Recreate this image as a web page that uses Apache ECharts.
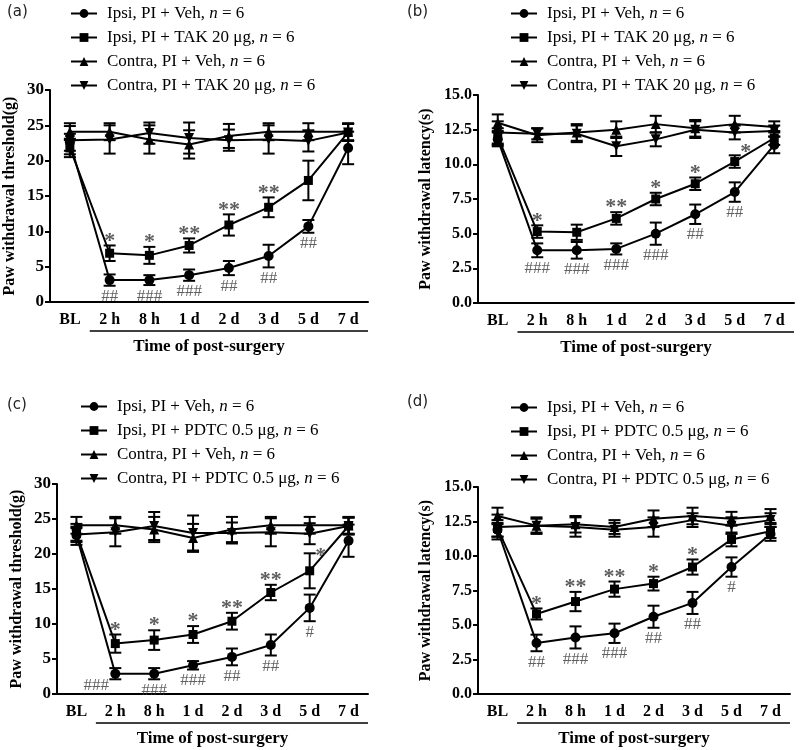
<!DOCTYPE html>
<html><head><meta charset="utf-8">
<script src="https://cdn.jsdelivr.net/npm/echarts@6/dist/echarts.min.js"></script>
<style>html,body{margin:0;padding:0;background:#fff}#c{width:800px;height:750px}</style>
</head><body><div id="c"></div>
<script>
const categories = ['BL','2 h','8 h','1 d','2 d','3 d','5 d','7 d'];

// (a) mechanical threshold, TAK
const a_ipsiVeh = [22.6, 3.1, 3.1, 3.8, 4.8, 6.5, 10.7, 21.8];
const a_ipsiVehErr = [1.2, 0.8, 0.7, 0.8, 1.0, 1.6, 0.9, 2.3];
const a_ipsiDrug = [21.8, 6.9, 6.6, 8.0, 10.9, 13.4, 17.2, 24.0];
const a_ipsiDrugErr = [1.3, 1.1, 1.2, 1.0, 1.5, 1.4, 2.8, 1.2];
const a_contraVeh = [24.1, 24.1, 23.0, 22.3, 23.5, 24.1, 24.1, 24.1];
const a_contraVehErr = [1.2, 1.2, 2.0, 2.0, 1.7, 1.2, 1.2, 1.2];
const a_contraDrug = [22.9, 23.0, 23.9, 23.2, 22.9, 23.0, 22.8, 24.0];
const a_contraDrugErr = [2.0, 2.0, 1.5, 2.2, 1.5, 2.0, 1.5, 1.2];
const a_stars = ['', '*', '*', '**', '**', '**', '', ''];
const a_hashes = ['', '##', '###', '###', '##', '##', '##', ''];

// (b) thermal latency, TAK
const b_ipsiVeh = [11.8, 3.8, 3.8, 3.9, 5.0, 6.4, 8.0, 11.4];
const b_ipsiVehErr = [0.5, 0.5, 0.6, 0.4, 0.8, 0.7, 0.7, 0.6];
const b_ipsiDrug = [12.0, 5.15, 5.1, 6.1, 7.5, 8.6, 10.2, 11.9];
const b_ipsiDrugErr = [0.6, 0.45, 0.55, 0.45, 0.45, 0.45, 0.45, 0.5];
const b_contraVeh = [13.0, 12.1, 12.3, 12.5, 12.9, 12.6, 12.9, 12.7];
const b_contraVehErr = [0.6, 0.5, 0.6, 0.6, 0.6, 0.6, 0.6, 0.4];
const b_contraDrug = [12.3, 12.2, 12.2, 11.3, 11.8, 12.5, 12.3, 12.4];
const b_contraDrugErr = [0.8, 0.4, 0.6, 0.7, 0.5, 0.6, 0.5, 0.4];
const b_stars = ['', '*', '', '**', '*', '*', '*', ''];
const b_hashes = ['', '###', '###', '###', '###', '##', '##', ''];

// (c) mechanical threshold, PDTC
const c_ipsiVeh = [22.7, 2.9, 2.9, 4.1, 5.3, 7.0, 12.3, 21.9];
const c_ipsiVehErr = [1.0, 0.8, 0.8, 0.6, 1.2, 1.5, 1.9, 2.3];
const c_ipsiDrug = [22.9, 7.2, 7.7, 8.5, 10.4, 14.5, 17.6, 24.0];
const c_ipsiDrugErr = [1.0, 1.3, 1.4, 1.2, 1.2, 1.1, 2.5, 1.2];
const c_contraVeh = [24.1, 24.1, 23.5, 22.3, 23.5, 24.1, 24.1, 24.1];
const c_contraVehErr = [1.2, 1.2, 1.8, 2.0, 1.8, 1.2, 1.2, 1.2];
const c_contraDrug = [22.8, 23.1, 24.0, 23.0, 23.0, 23.1, 22.9, 24.0];
const c_contraDrugErr = [1.5, 2.0, 2.0, 2.5, 1.5, 2.0, 1.5, 1.2];
const c_stars = ['', '*', '*', '*', '**', '**', '*', ''];
const c_hashes = ['', '###', '###', '###', '##', '##', '#', ''];

// (d) thermal latency, PDTC
const d_ipsiVeh = [11.9, 3.7, 4.1, 4.4, 5.6, 6.6, 9.2, 11.6];
const d_ipsiVehErr = [0.5, 0.6, 0.8, 0.7, 0.8, 0.8, 0.7, 0.5];
const d_ipsiDrug = [12.0, 5.8, 6.7, 7.6, 8.0, 9.2, 11.2, 11.8];
const d_ipsiDrugErr = [0.6, 0.4, 0.7, 0.55, 0.5, 0.55, 0.5, 0.5];
const d_contraVeh = [12.9, 12.2, 12.3, 12.1, 12.7, 12.9, 12.7, 12.9];
const d_contraVehErr = [0.6, 0.5, 0.6, 0.5, 0.6, 0.6, 0.5, 0.5];
const d_contraDrug = [12.1, 12.2, 12.1, 11.9, 12.1, 12.6, 12.2, 12.6];
const d_contraDrugErr = [0.9, 0.6, 0.7, 0.5, 0.7, 0.5, 0.6, 0.5];
const d_stars = ['', '*', '**', '**', '*', '*', '', ''];
const d_hashes = ['', '##', '###', '###', '##', '##', '#', ''];

const namesTAK = ['Ipsi, PI + Veh, n = 6', 'Ipsi, PI + TAK 20 μg, n = 6', 'Contra, PI + Veh, n = 6', 'Contra, PI + TAK 20 μg, n = 6'];
const namesPDTC = ['Ipsi, PI + Veh, n = 6', 'Ipsi, PI + PDTC 0.5 μg, n = 6', 'Contra, PI + Veh, n = 6', 'Contra, PI + PDTC 0.5 μg, n = 6'];
const yNames = ['Paw withdrawal threshold(g)', 'Paw withdrawal latency(s)', 'Paw withdrawal threshold(g)', 'Paw withdrawal latency(s)'];
const xName = 'Time of post-surgery';
const panelLabels = ['(a)', '(b)', '(c)', '(d)'];

const SERIF = '"Liberation Serif","Times New Roman",serif';

const panels = [
  {names: namesTAK, ipsiVeh:[a_ipsiVeh,a_ipsiVehErr], ipsiDrug:[a_ipsiDrug,a_ipsiDrugErr], contraVeh:[a_contraVeh,a_contraVehErr], contraDrug:[a_contraDrug,a_contraDrugErr], stars:a_stars, hashes:a_hashes, max:30, interval:5, dec:0},
  {names: namesTAK, ipsiVeh:[b_ipsiVeh,b_ipsiVehErr], ipsiDrug:[b_ipsiDrug,b_ipsiDrugErr], contraVeh:[b_contraVeh,b_contraVehErr], contraDrug:[b_contraDrug,b_contraDrugErr], stars:b_stars, hashes:b_hashes, max:15, interval:2.5, dec:1},
  {names: namesPDTC, ipsiVeh:[c_ipsiVeh,c_ipsiVehErr], ipsiDrug:[c_ipsiDrug,c_ipsiDrugErr], contraVeh:[c_contraVeh,c_contraVehErr], contraDrug:[c_contraDrug,c_contraDrugErr], stars:c_stars, hashes:c_hashes, max:30, interval:5, dec:0},
  {names: namesPDTC, ipsiVeh:[d_ipsiVeh,d_ipsiVehErr], ipsiDrug:[d_ipsiDrug,d_ipsiDrugErr], contraVeh:[d_contraVeh,d_contraVehErr], contraDrug:[d_contraDrug,d_contraDrugErr], stars:d_stars, hashes:d_hashes, max:15, interval:2.5, dec:1}
];

// layout
const grids = [
  {left: 50, top: 90, width: 318, height: 212},
  {left: 478, top: 95, width: 316, height: 208},
  {left: 57, top: 484, width: 311, height: 210},
  {left: 478, top: 487, width: 312, height: 207}
];
const legendPos = [{left: 70, top: 5}, {left: 510, top: 5}, {left: 80, top: 398}, {left: 510, top: 399}];
const panelLabelPos = [{left: 7, top: 5}, {left: 407, top: 5}, {left: 7, top: 398}, {left: 407, top: 395}];
// special label offsets [panel, kind, index] -> offset
const specialOffsets = {'1-s-6': [11, 8], '2-s-6': [11, 15], '2-h-1': [-19, -5]};

const markerDefs = [
  {symbol: 'circle', rotate: 0},
  {symbol: 'rect', rotate: 0},
  {symbol: 'triangle', rotate: 0},
  {symbol: 'triangle', rotate: 180}
];

function errSeries(p, means, errs) {
  return {
    type: 'custom', xAxisIndex: p, yAxisIndex: p, silent: true, z: 2,
    data: means.map((m, i) => [i, m, errs[i]]),
    encode: {x: 0, y: 1},
    renderItem: (params, api) => {
      const x = api.value(0), m = api.value(1), e = api.value(2);
      const t = api.coord([x, m + e]), b = api.coord([x, m - e]);
      const w = 6;
      const st = {stroke: '#000', lineWidth: 2};
      return {type: 'group', children: [
        {type: 'line', shape: {x1: t[0], y1: t[1], x2: b[0], y2: b[1]}, style: st},
        {type: 'line', shape: {x1: t[0] - w, y1: t[1], x2: t[0] + w, y2: t[1]}, style: st},
        {type: 'line', shape: {x1: b[0] - w, y1: b[1], x2: b[0] + w, y2: b[1]}, style: st}
      ]};
    }
  };
}

const option = {
  animation: false,
  backgroundColor: '#fff',
  grid: grids.map(g => Object.assign({containLabel: false}, g)),
  xAxis: grids.map((g, p) => ({
    type: 'category', gridIndex: p, data: categories, boundaryGap: true,
    axisLine: {lineStyle: {color: '#000', width: 2}},
    axisTick: {alignWithLabel: true, length: 5, lineStyle: {color: '#000', width: 2}},
    axisLabel: {color: '#000', fontFamily: SERIF, fontWeight: 'bold', fontSize: 16, margin: 10},
    name: xName, nameLocation: 'middle', nameGap: 36,
    nameTextStyle: {color: '#000', fontFamily: SERIF, fontWeight: 'bold', fontSize: 17},
    splitLine: {show: false}
  })),
  yAxis: panels.map((pn, p) => ({
    type: 'value', gridIndex: p, min: 0, max: pn.max, interval: pn.interval,
    axisLine: {show: true, lineStyle: {color: '#000', width: 2}},
    axisTick: {show: true, length: 5, lineStyle: {color: '#000', width: 2}},
    axisLabel: {color: '#000', fontFamily: SERIF, fontWeight: 'bold', fontSize: p % 2 ? 16 : 17, margin: 6,
      formatter: v => v.toFixed(pn.dec)},
    splitLine: {show: false},
    name: yNames[p], nameLocation: 'middle', nameGap: p % 2 ? 44 : 32,
    nameTextStyle: {color: '#000', fontFamily: SERIF, fontWeight: 'bold', fontSize: 16}
  })),
  legend: panels.map((pn, p) => ({
    data: pn.names, orient: 'vertical', left: legendPos[p].left, top: legendPos[p].top,
    padding: 0, itemWidth: 26, itemHeight: 11, itemGap: 7, selectedMode: false,
    textStyle: {color: '#000', fontFamily: SERIF, fontSize: 17, padding: [0, 0, 0, 5],
      rich: {t: {fontFamily: SERIF, fontSize: 17, color: '#000', lineHeight: 17},
             i: {fontFamily: SERIF, fontSize: 17, color: '#000', fontStyle: 'italic', lineHeight: 17}}},
    formatter: n => { const k = n.lastIndexOf('n = '); return '{t|' + n.slice(0, k) + '}{i|n}{t|' + n.slice(k + 1) + '}'; }
  })),
  graphic: panelLabels.map((t, p) => ({
    type: 'text', left: panelLabelPos[p].left, top: panelLabelPos[p].top,
    style: {text: t, font: '15px "DejaVu Sans", Arial, sans-serif', fill: '#222'}
  })),
  series: []
};

panels.forEach((pn, p) => {
  const groups = [pn.ipsiVeh, pn.ipsiDrug, pn.contraVeh, pn.contraDrug];
  groups.forEach((g, k) => {
    option.series.push({
      type: 'line', name: pn.names[k], xAxisIndex: p, yAxisIndex: p, data: g[0],
      symbol: markerDefs[k].symbol, symbolRotate: markerDefs[k].rotate, symbolSize: k === 1 ? 9 : 10,
      showAllSymbol: true, z: 3,
      lineStyle: {color: '#000', width: 2}, itemStyle: {color: '#000'}
    });
    option.series.push(errSeries(p, g[0], g[1]));
  });
  // stars above drug ipsi error bars
  option.series.push({
    type: 'scatter', xAxisIndex: p, yAxisIndex: p, symbolSize: 1, silent: true, z: 5,
    itemStyle: {color: 'rgba(0,0,0,0)'},
    data: pn.stars.map((s, i) => {
      const d = {value: [i, pn.ipsiDrug[0][i] + pn.ipsiDrug[1][i]], label: {formatter: s}};
      const off = specialOffsets[p + '-s-' + i];
      if (off) d.label.offset = off;
      return d;
    }).filter((d, i) => pn.stars[i] !== ''),
    label: {show: true, position: 'top', distance: 0, offset: [0, 7], color: '#333',
      fontFamily: SERIF, fontWeight: 'bold', fontSize: 22}
  });
  // hashes below vehicle ipsi error bars
  option.series.push({
    type: 'scatter', xAxisIndex: p, yAxisIndex: p, symbolSize: 1, silent: true, z: 5,
    itemStyle: {color: 'rgba(0,0,0,0)'},
    data: pn.hashes.map((s, i) => {
      const d = {value: [i, pn.ipsiVeh[0][i] - pn.ipsiVeh[1][i]], label: {formatter: s}};
      const off = specialOffsets[p + '-h-' + i];
      if (off) d.label.offset = off;
      return d;
    }).filter((d, i) => pn.hashes[i] !== ''),
    label: {show: true, position: 'bottom', distance: 2, color: '#3a3a3a',
      fontFamily: SERIF, fontSize: 17}
  });
});

const chart = echarts.init(document.getElementById('c'), null, {renderer: 'canvas'});
chart.setOption(option);

// underline under the post-surgery categories, from the BL/2h boundary to the axis end
const lines = grids.map((g, p) => {
  const c0 = chart.convertToPixel({xAxisIndex: p}, 0);
  const c1 = chart.convertToPixel({xAxisIndex: p}, 1);
  const c7 = chart.convertToPixel({xAxisIndex: p}, categories.length - 1);
  const half = (c1 - c0) / 2;
  const y0 = chart.convertToPixel({yAxisIndex: p}, 0);
  return {type: 'line', shape: {x1: c0 + half, y1: y0 + 29, x2: c7 + half, y2: y0 + 29},
    style: {stroke: '#000', lineWidth: 1.5}};
});
chart.setOption({graphic: option.graphic.concat(lines)});
</script></body></html>
